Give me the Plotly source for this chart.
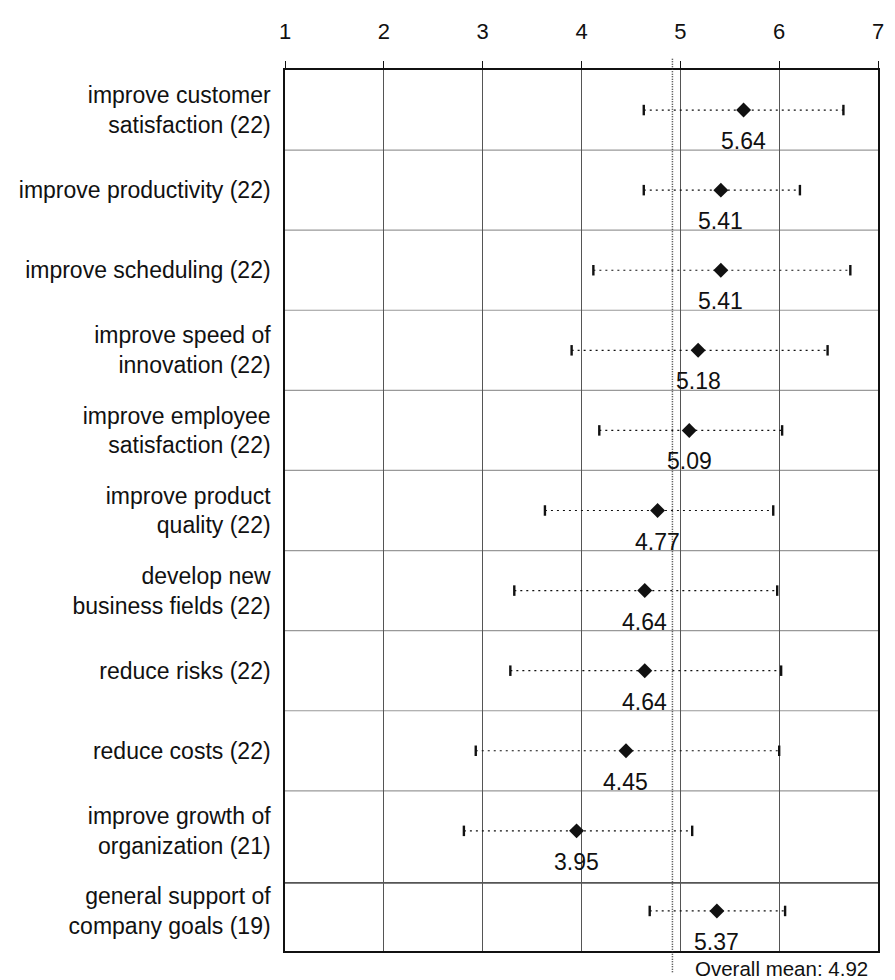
import plotly.graph_objects as go

categories = [
    "improve customer<br>satisfaction (22)",
    "improve productivity (22)",
    "improve scheduling (22)",
    "improve speed of<br>innovation (22)",
    "improve employee<br>satisfaction (22)",
    "improve product<br>quality (22)",
    "develop new<br>business fields (22)",
    "reduce risks (22)",
    "reduce costs (22)",
    "improve growth of<br>organization (21)",
    "general support of<br>company goals (19)",
]
means = [5.64, 5.41, 5.41, 5.18, 5.09, 4.77, 4.64, 4.64, 4.45, 3.95, 5.37]
lows = [4.63, 4.63, 4.12, 3.90, 4.18, 3.63, 3.32, 3.28, 2.93, 2.81, 4.69]
highs = [6.65, 6.21, 6.72, 6.49, 6.03, 5.94, 5.98, 6.02, 6.00, 5.12, 6.06]
overall_mean = 4.92
x_ticks = [1, 2, 3, 4, 5, 6, 7]

FONT = "Liberation Sans, Arial, sans-serif"
rows = list(range(len(categories)))

fig = go.Figure()

# dotted whiskers
wx, wy = [], []
for i, lo, hi in zip(rows, lows, highs):
    wx += [lo, hi, None]
    wy += [i, i, None]
fig.add_trace(go.Scatter(x=wx, y=wy, mode="lines",
                         line=dict(color="#111", width=1.2, dash="2px,4px"),
                         hoverinfo="skip", showlegend=False))
# end caps
fig.add_trace(go.Scatter(x=lows + highs, y=rows + rows, mode="markers",
                         marker=dict(symbol="line-ns", size=7.5,
                                     line=dict(color="#111", width=2.4)),
                         hoverinfo="skip", showlegend=False))
# means
fig.add_trace(go.Scatter(x=means, y=rows, mode="markers",
                         marker=dict(symbol="diamond", size=11.5, color="#111",
                                     line=dict(width=0)),
                         showlegend=False))

# value labels
for i, m in zip(rows, means):
    fig.add_annotation(x=m, y=i, text=f"{m:.2f}", showarrow=False,
                       yshift=-31, font=dict(size=23, color="#111", family=FONT))

# row separators
for i in rows[:-2]:
    fig.add_shape(type="line", xref="paper", x0=0, x1=1, yref="y",
                  y0=i + 0.5, y1=i + 0.5, line=dict(color="#999", width=1.2),
                  layer="below")
fig.add_shape(type="line", xref="paper", x0=0, x1=1, yref="y",
              y0=9.65, y1=9.65, line=dict(color="#555", width=1.8), layer="below")

# overall mean line
fig.add_shape(type="line", xref="x", x0=overall_mean, x1=overall_mean,
              yref="paper", y0=-0.024, y1=1.014,
              line=dict(color="#333", width=1.5, dash="1px,1.5px"), layer="above")
fig.add_annotation(x=overall_mean, xref="x", y=0, yref="paper",
                   text=f"Overall mean: {overall_mean:.2f}", showarrow=False,
                   xanchor="left", yanchor="middle", xshift=21, yshift=-17,
                   font=dict(size=20.5, color="#111", family=FONT))

fig.update_xaxes(range=[1, 7], side="top", tickvals=x_ticks,
                 ticktext=[str(t) for t in x_ticks],
                 ticks="outside", ticklen=7, tickcolor="#111", tickwidth=1.2,
                 showgrid=True, gridcolor="#555", gridwidth=1,
                 showline=True, linecolor="#111", linewidth=1.6, mirror=True,
                 zeroline=False, ticklabelstandoff=13,
                 tickfont=dict(size=22, color="#111", family=FONT))
fig.update_yaxes(range=[10.5, -0.5], tickvals=rows, ticktext=categories,
                 ticks="", showgrid=False, zeroline=False,
                 showline=True, linecolor="#111", linewidth=1.6, mirror=True,
                 ticklabelstandoff=8,
                 tickfont=dict(size=23, color="#111", family=FONT))

# page body has an 8px margin; compensate so the plot lands where the reference has it
fig.update_layout(width=887, height=972,
                  margin=dict(l=264, r=11, t=43, b=29),
                  paper_bgcolor="white", plot_bgcolor="white",
                  font=dict(family=FONT, color="#111"))

fig.write_html("out.html")
